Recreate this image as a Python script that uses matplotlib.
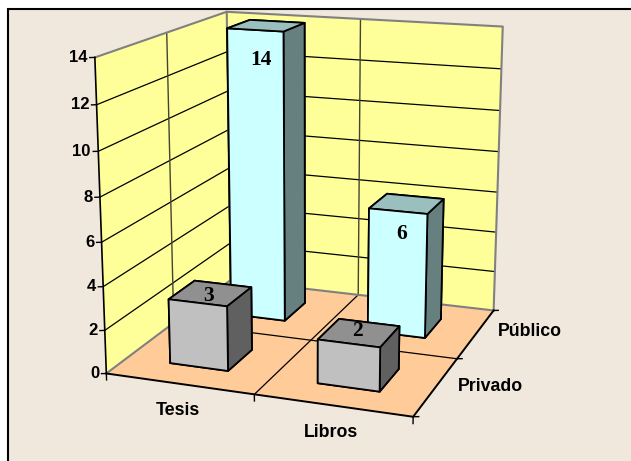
#!/usr/bin/env python3
# 3D column chart, Tesis / Libros by sector

import matplotlib
matplotlib.use('Agg')
import matplotlib.pyplot as plt
from matplotlib.patches import Rectangle
from mpl_toolkits.mplot3d.art3d import Poly3DCollection

categories = ['Tesis', 'Libros']
sectors = ['Privado', 'Público']
privado = [3, 2]
publico = [14, 6]
z_ticks = [0, 2, 4, 6, 8, 10, 12, 14]

W_PX, H_PX = 631, 461
BAR = 0.4
CYAN = ['#CCFFFF', '#99BFBF', '#CCFFFF', '#CCFFFF', '#668080', '#668080']
GREY = ['#C0C0C0', '#909090', '#C0C0C0', '#C0C0C0', '#606060', '#606060']
SANS = 'Liberation Sans'
SERIF = 'Liberation Serif'

fig = plt.figure(figsize=(W_PX / 100, H_PX / 100), dpi=100, facecolor='white')
# view fitted against the box corners of the reference
ax = fig.add_axes([43.95 / W_PX, -0.40 / H_PX, 519.76 / W_PX, 519.76 / H_PX],
                  projection='3d', proj_type='persp', focal_length=0.55184,
                  computed_zorder=False)
ax.set_xlim(0, 2)
ax.set_ylim(0, 2)
ax.set_zlim(0, 14)
ax.view_init(elev=14.953, azim=-70.001)
ax.set_box_aspect((0.79789, 0.79807, 0.79899))
ax.set_axis_off()
ax.patch.set_visible(False)

# beige chart area, only its left and top edges are inside the image
fig.patches.append(Rectangle((8 / W_PX, -0.1), 1, 1.1 - 9 / H_PX, transform=fig.transFigure,
                             fc='#F0E8DC', ec='black', lw=1.5, zorder=-1))


def pane(corners, color):
    ax.add_collection3d(Poly3DCollection([corners], facecolors=color, edgecolors='none', zorder=1))


pane([(0, 0, 0), (0, 2, 0), (0, 2, 14), (0, 0, 14)], '#FFFF99')
pane([(0, 2, 0), (2, 2, 0), (2, 2, 14), (0, 2, 14)], '#FFFF99')
pane([(0, 0, 0), (2, 0, 0), (2, 2, 0), (0, 2, 0)], '#FFCC99')

# grid
for z in z_ticks[1:-1]:
    ax.plot([0, 0, 2], [0, 2, 2], [z, z, z], color='black', lw=0.9, zorder=2)
ax.plot([0, 0], [1, 1], [0, 14], color='#444430', lw=1, zorder=2)
ax.plot([1, 1], [2, 2], [0, 14], color='#444430', lw=1, zorder=2)
ax.plot([1, 1], [0, 2], [0, 0], color='black', lw=0.9, zorder=2)
ax.plot([0, 2], [1, 1], [0, 0], color='black', lw=0.9, zorder=2)

# box edges
ax.plot([0, 0, 2, 2], [0, 2, 2, 2], [14, 14, 14, 0], color='#808080', lw=1.5, zorder=3)
ax.plot([0, 0], [2, 2], [0, 14], color='#808080', lw=1.5, zorder=3)
ax.plot([0, 0, 2], [0, 2, 2], [0, 0, 0], color='#808080', lw=1.5, zorder=3)
ax.plot([0, 0], [0, 0], [0, 14], color='black', lw=1.2, zorder=3)
ax.plot([0, 2, 2], [0, 0, 2], [0, 0, 0], color='black', lw=1.4, zorder=3)

# ticks
for z in z_ticks:
    ax.plot([0, -0.027], [0, -0.013], [z, z], color='black', lw=1, zorder=3)
    ax.text(-0.04, -0.02, z, str(z), ha='right', va='center', fontsize=12,
            fontweight='bold', family=SANS, zorder=6)
for x in [0, 1, 2]:
    ax.plot([x, x], [0, 0], [0, -0.3], color='black', lw=1, zorder=3)
for y in [0, 1, 2]:
    ax.plot([2, 2.03], [y, y + 0.013], [0, 0], color='black', lw=1, zorder=3)


def bar(i, j, val, cols, zo):
    ax.bar3d(i + 0.5 - BAR / 2, j + 0.5 - BAR / 2, 0, BAR, BAR, val, color=cols,
             edgecolor='black', linewidth=1.3, shade=False, zorder=zo)


def vlabel(i, j, val, dy, drop):
    ax.text(i + 0.5, j + 0.5 - BAR / 2 + dy, val - drop, str(val), ha='center', va='center',
            fontsize=15.5, fontweight='bold', family=SERIF, zorder=7)


# back row first so the front row covers it
bar(0, 1, publico[0], CYAN, 4)
bar(1, 1, publico[1], CYAN, 4.1)
bar(0, 0, privado[0], GREY, 4.2)
bar(1, 0, privado[1], GREY, 4.3)

vlabel(0, 1, publico[0], 0.09, 1.5)
vlabel(1, 1, publico[1], 0.09, 1.28)
vlabel(0, 0, privado[0], 0.17, 0.05)
vlabel(1, 0, privado[1], 0.16, -0.18)

for name, (px, py) in zip(categories + sectors, [(178, 410), (331, 432), (490, 386), (530, 332)]):
    fig.text(px / W_PX, 1 - py / H_PX, name, ha='center', va='center', fontsize=12.8,
             fontweight='bold', family=SANS)

fig.savefig('out.png', dpi=100)
